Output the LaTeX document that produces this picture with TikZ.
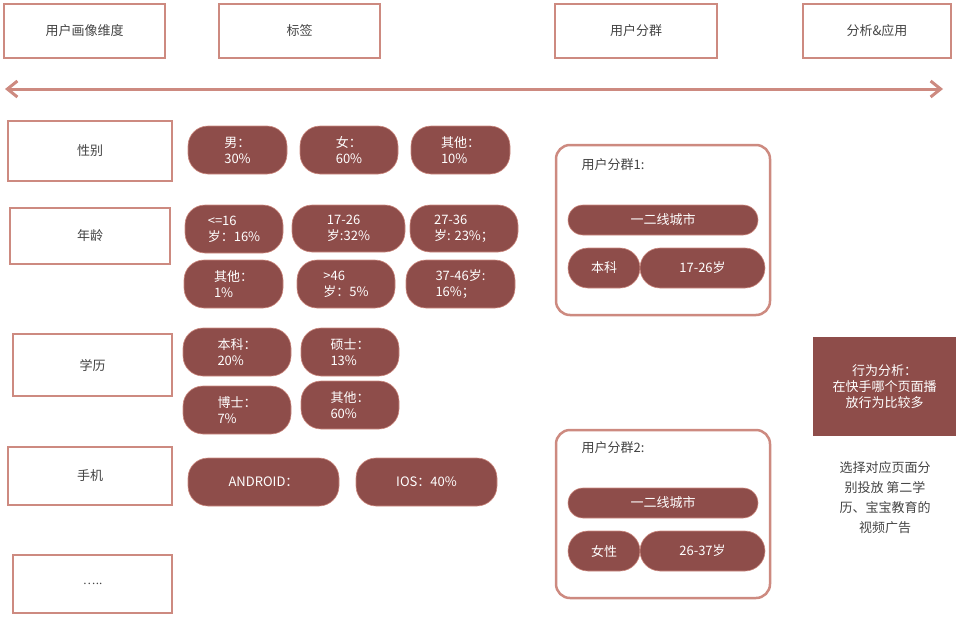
\documentclass[tikz,border=0pt]{standalone}
\usepackage{fontspec}
\setmainfont{Liberation Serif}
\newfontfamily\cjk{Noto Sans CJK SC}
\usetikzlibrary{arrows.meta}
\definecolor{pillc}{HTML}{8E4D4A}
\definecolor{edgec}{HTML}{CD8A80}
\definecolor{txtc}{HTML}{444444}
\begin{document}
\begin{tikzpicture}[x=1pt,y=-1pt,
  frame/.style={draw=edgec,line width=2.5pt,fill=white},
  pill/.style={fill=pillc,draw=edgec,line width=0.6pt,rounded corners=20pt},
  wt/.style={text=white,font=\cjk\fontsize{13}{16}\selectfont,align=left,anchor=center},
  bt/.style={text=txtc,font=\cjk\fontsize{13}{16}\selectfont,align=center}]
\useasboundingbox (0,0) rectangle (957,618);
\def\fr#1#2#3#4#5#6{\draw[frame] (#2,#3) rectangle (#4,#5); \node[bt] (#1) at ({(#2+#4)/2},{(#3+#5)/2}) {#6};}
\def\pl#1#2#3#4#5#6{\draw[pill] (#2,#3) rectangle (#4,#5); \node[wt] (#1) at ({(#2+#4)/2},{(#3+#5)/2}) {#6};}
\fr{t1}{4}{4}{165}{58}{用户画像维度}
\fr{t2}{219}{4}{380}{58}{标签}
\fr{t3}{555}{4}{717}{58}{用户分群}
\fr{t4}{803}{4}{951}{58}{分析\&应用}
\coordinate (aL) at (5,89); \coordinate (aR) at (943,89);
\draw[edgec,line width=3pt,{Straight Barb[length=10pt,width=16pt]}-{Straight Barb[length=10pt,width=16pt]}] (aL) -- (aR);
\fr{l1}{8}{121}{172}{181}{性别}
\fr{l2}{10}{208}{170}{264}{年龄}
\fr{l3}{13}{334}{172}{396}{学历}
\fr{l4}{8}{447}{172}{505}{手机}
\fr{l5}{13}{555}{172}{613}{\rmfamily …..}
\pl{p1}{188}{126}{287}{174}{男：\\30\%}
\pl{p2}{300}{126}{398}{174}{女：\\60\%}
\pl{p3}{411}{126}{510}{174}{其他：\\10\%}
\pl{p4}{185}{205}{283}{253}{<=16\\岁：16\%}
\pl{p5}{292}{205}{405}{252}{17-26\\岁:32\%}
\pl{p6}{410}{205}{518}{252}{27-36\\岁: 23\%；}
\pl{p7}{184}{260}{283}{308}{其他：\\1\%}
\pl{p8}{297}{260}{395}{308}{>46\\岁：5\%}
\pl{p9}{406}{260}{515}{308}{37-46岁:\\16\%；}
\pl{p10}{183}{328}{291}{376}{本科：\\20\%}
\pl{p11}{301}{328}{399}{376}{硕士：\\13\%}
\pl{p12}{183}{386}{291}{434}{博士：\\7\%}
\pl{p13}{301}{381}{399}{429}{其他：\\60\%}
\pl{p14}{188}{458}{339}{506}{ANDROID：}
\pl{p15}{356}{458}{497}{506}{IOS：40\%}
% groups
\draw[frame,rounded corners=14pt] (556,145) rectangle (770,315);
\node[bt,anchor=west] (g1) at (578,165) {用户分群1:};
\draw[pill,rounded corners=15pt] (568,205) rectangle (758,235);
\node[wt] (g1a) at (663,220) {一二线城市};
\pl{g1b}{568}{248}{640}{288}{本科}
\pl{g1c}{640}{248}{765}{288}{17-26岁}
\draw[frame,rounded corners=14pt] (556,430) rectangle (770,598);
\node[bt,anchor=west] (g2) at (578,448) {用户分群2:};
\draw[pill,rounded corners=15pt] (568,488) rectangle (758,518);
\node[wt] (g2a) at (663,503) {一二线城市};
\pl{g2b}{568}{531}{640}{571}{女性}
\pl{g2c}{640}{531}{765}{571}{26-37岁}
\fill[pillc] (813,337) rectangle (956,436);
\node[wt,align=center] (r1) at (884.5,386.5) {行为分析：\\在快手哪个页面播\\放行为比较多};
\node[bt,font=\cjk\fontsize{13}{20}\selectfont] (r2) at (885,498) {选择对应页面分\\别投放 第二学\\历、宝宝教育的\\视频广告};
\end{tikzpicture}
\end{document}
